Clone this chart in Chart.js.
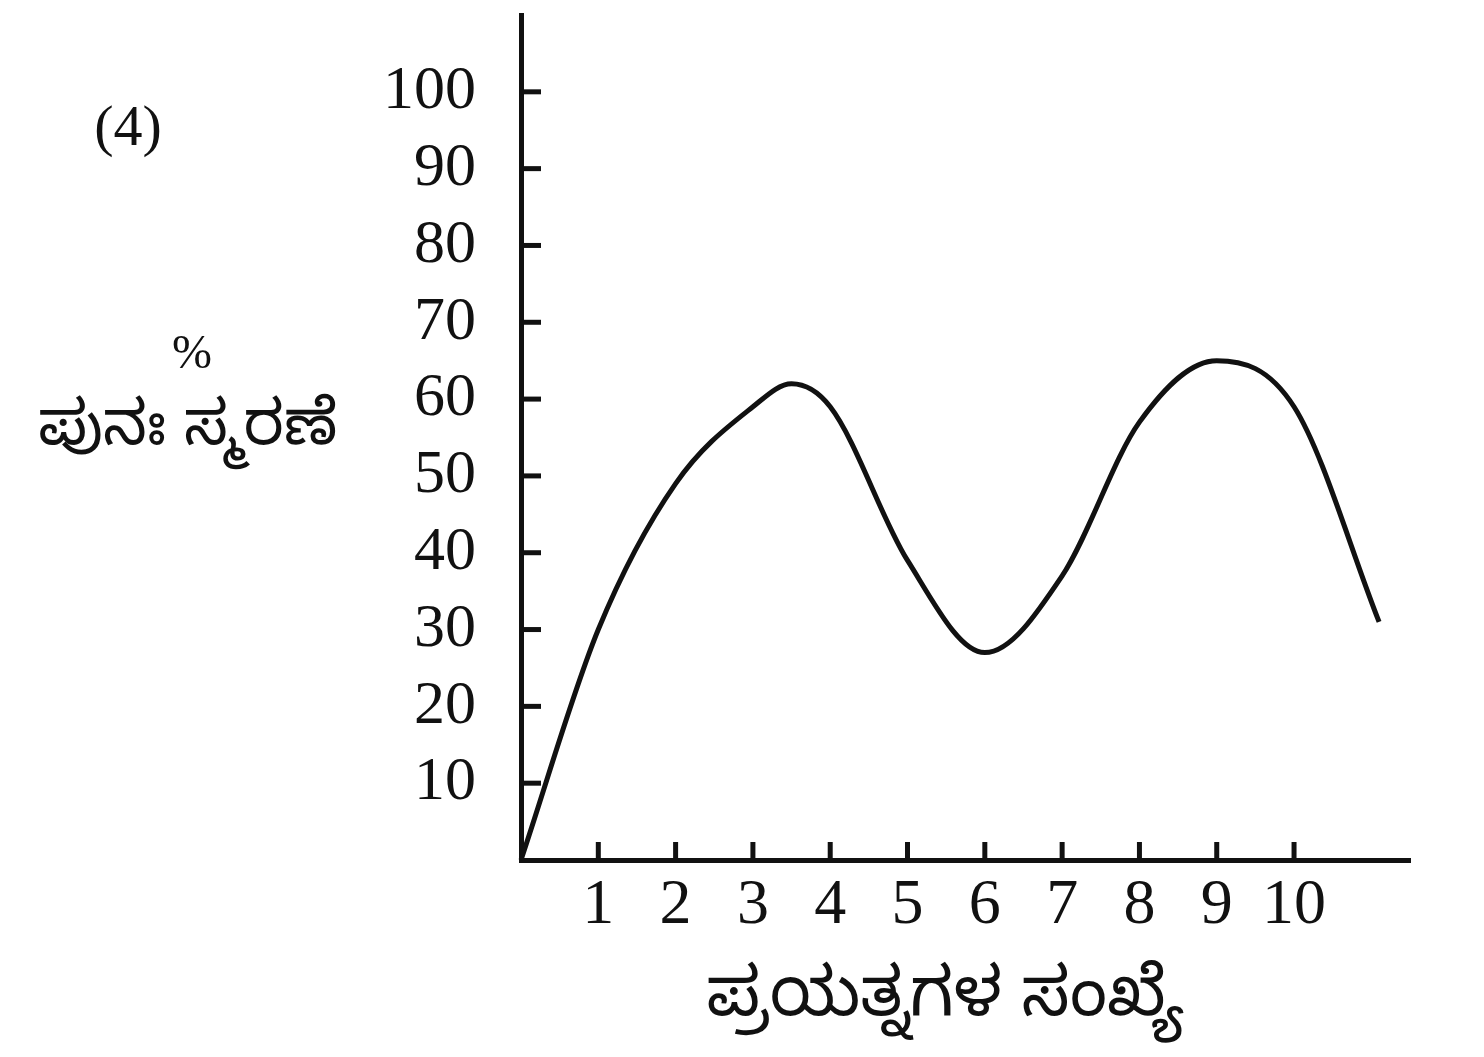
<!DOCTYPE html>
<html>
<head>
<meta charset="utf-8">
<script src="https://cdn.jsdelivr.net/npm/chart.js@4"></script>
<style>
  html, body { margin: 0; padding: 0; background: #fff; }
  #wrap { width: 1484px; height: 1057px; }
</style>
</head>
<body>
<div id="wrap"><canvas id="recallChart"></canvas></div>
<script>
// data
const trials = [0, 1, 2, 3, 3.5, 4, 5, 6, 7, 8, 9, 10, 11.1];
const recallPct = [0, 30, 49, 59, 62, 59, 39, 27, 37, 57, 65, 59, 31];
const xTickLabels = [1, 2, 3, 4, 5, 6, 7, 8, 9, 10];
const yTickLabels = [10, 20, 30, 40, 50, 60, 70, 80, 90, 100];
const panelLabel = '(4)';
const yUnit = '%';
const yTitle = 'ಪುನಃ ಸ್ಮರಣೆ';
const xTitle = 'ಪ್ರಯತ್ನಗಳ ಸಂಖ್ಯೆ';

const ink = '#111';
const serif = '"Liberation Serif", "DejaVu Serif", serif';
const kannada = '"Noto Sans Kannada", "Noto Serif Kannada", "Noto Sans", sans-serif';

// tick marks point into the plot, and the free texts sit outside the scales
const extras = {
    id: 'extras',
    afterDraw(chart) {
        const ctx = chart.ctx;
        const x = chart.scales.x, y = chart.scales.y;
        const area = chart.chartArea;
        ctx.save();
        ctx.strokeStyle = ink;
        ctx.lineWidth = 5;
        yTickLabels.forEach(v => {
            const py = y.getPixelForValue(v);
            ctx.beginPath();
            ctx.moveTo(area.left, py);
            ctx.lineTo(area.left + 20, py);
            ctx.stroke();
        });
        xTickLabels.forEach(v => {
            const px = x.getPixelForValue(v);
            ctx.beginPath();
            ctx.moveTo(px, area.bottom);
            ctx.lineTo(px, area.bottom - 18);
            ctx.stroke();
        });

        ctx.fillStyle = ink;
        ctx.textAlign = 'center';
        ctx.textBaseline = 'middle';
        ctx.font = '58px ' + serif;
        ctx.fillText(panelLabel, 128, 130);
        ctx.font = '48px ' + serif;
        ctx.fillText(yUnit, 192, 355);
        ctx.font = '62px ' + kannada;
        ctx.fillText(yTitle, 188, 438);
        ctx.font = '68px ' + kannada;
        ctx.fillText(xTitle, 945, 1008);
        ctx.restore();
    }
};

const chartCtx = document.getElementById('recallChart').getContext('2d');
new Chart(chartCtx, {
    type: 'line',
    data: {
        datasets: [{
            data: trials.map((t, i) => ({ x: t, y: recallPct[i] })),
            borderColor: ink,
            borderWidth: 5,
            pointRadius: 0,
            cubicInterpolationMode: 'monotone',
            fill: false,
            clip: false
        }]
    },
    options: {
        responsive: true,
        maintainAspectRatio: false,
        animation: false,
        layout: { autoPadding: false, padding: { left: 371, right: 74, top: 15, bottom: 0 } },
        plugins: { legend: { display: false }, tooltip: { enabled: false } },
        scales: {
            x: {
                type: 'linear',
                min: 0,
                max: 11.5,
                afterBuildTicks: s => { s.ticks = xTickLabels.map(v => ({ value: v })); },
                afterFit: s => { s.height = 197; s.paddingLeft = 0; s.paddingRight = 0; },
                grid: { display: false, drawTicks: false },
                border: { display: true, color: ink, width: 5 },
                ticks: { color: ink, padding: 8, maxRotation: 0, font: { family: serif, size: 64 } }
            },
            y: {
                min: 0,
                max: 110,
                afterBuildTicks: s => { s.ticks = yTickLabels.map(v => ({ value: v })); },
                // drop the label room the scale keeps above and below itself
                afterFit: s => { s.width = 150; s.paddingTop = 0; s.paddingBottom = 0; },
                grid: { display: false, drawTicks: false },
                border: { display: true, color: ink, width: 5 },
                ticks: { color: ink, padding: 45, font: { family: serif, size: 62 } }
            }
        }
    },
    plugins: [extras]
});
</script>
</body>
</html>
